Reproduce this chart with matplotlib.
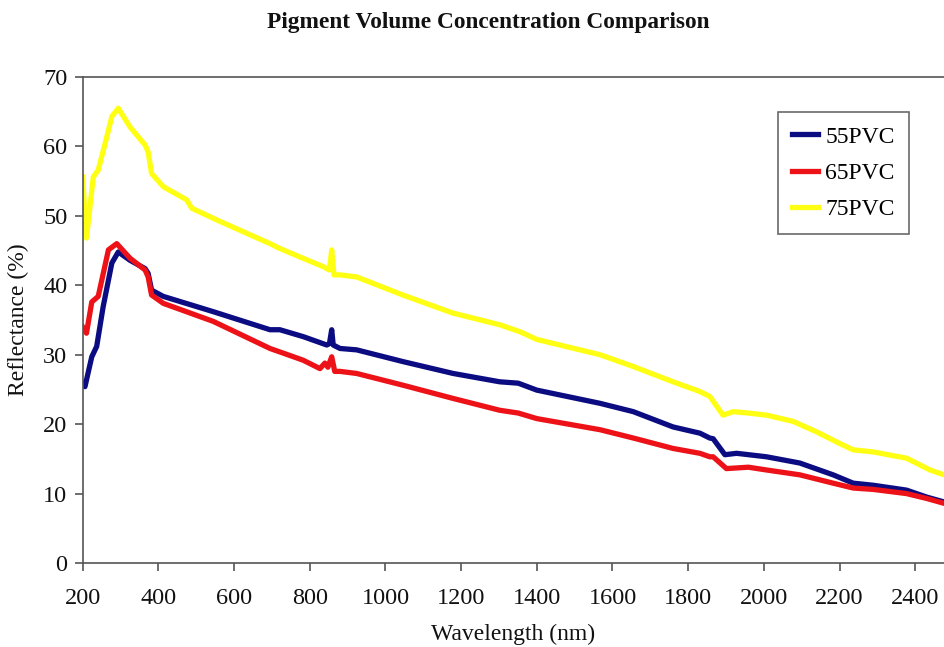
import matplotlib.pyplot as plt

plt.rcParams['font.family'] = ['Liberation Serif', 'DejaVu Serif']

# (wavelength nm, reflectance %)
wl_75 = [200, 210, 228, 241, 262, 277, 294, 325, 365, 373, 382, 413, 475, 488, 563,
         695, 721, 782, 835, 852, 858, 864, 880, 924, 1046, 1178, 1303, 1356, 1400,
         1567, 1655, 1760, 1831, 1857, 1870, 1892, 1919, 1959, 2007, 2077, 2139, 2201,
         2236, 2289, 2377, 2439, 2476]
r_75 = [55.6, 46.8, 55.6, 56.6, 61.0, 64.3, 65.5, 62.8, 60.2, 59.2, 56.1, 54.2, 52.3, 51.1, 49.2,
        46.0, 45.3, 43.9, 42.7, 42.2, 45.1, 41.5, 41.5, 41.2, 38.6, 36.0, 34.3, 33.3, 32.2,
        30.0, 28.3, 26.1, 24.7, 24.0, 23.0, 21.3, 21.8, 21.6, 21.3, 20.4, 18.9, 17.2,
        16.3, 16.0, 15.1, 13.4, 12.7]

wl_55 = [200, 206, 224, 237, 254, 277, 294, 325, 365, 373, 382, 413, 545, 695, 721,
         783, 845, 852, 858, 862, 880, 924, 1047, 1179, 1302, 1351, 1400, 1567, 1655,
         1760, 1831, 1857, 1866, 1897, 1928, 2007, 2095, 2183, 2236, 2289, 2377, 2430, 2476]
r_55 = [25.9, 25.4, 29.7, 31.2, 36.9, 43.2, 44.8, 43.6, 42.4, 41.7, 39.3, 38.4, 36.2, 33.6, 33.6,
        32.6, 31.4, 31.6, 33.6, 31.4, 30.9, 30.7, 29.0, 27.3, 26.1, 25.9, 24.9, 23.0, 21.8,
        19.6, 18.7, 18.0, 17.9, 15.6, 15.8, 15.3, 14.4, 12.7, 11.5, 11.2, 10.5, 9.5, 8.8]

wl_65 = [200, 210, 224, 241, 268, 290, 325, 365, 373, 382, 413, 545, 695, 721, 783,
         827, 840, 848, 858, 866, 880, 924, 1047, 1179, 1302, 1351, 1400, 1567, 1655,
         1760, 1831, 1857, 1866, 1901, 1959, 2007, 2095, 2183, 2236, 2289, 2377, 2430, 2476]
r_65 = [34.0, 33.1, 37.6, 38.4, 45.1, 46.0, 43.9, 42.2, 41.2, 38.6, 37.4, 34.8, 30.9, 30.4, 29.2,
        28.0, 28.8, 28.2, 29.7, 27.6, 27.6, 27.3, 25.6, 23.7, 22.0, 21.6, 20.8, 19.2, 18.0,
        16.5, 15.8, 15.3, 15.3, 13.6, 13.8, 13.4, 12.7, 11.5, 10.8, 10.6, 10.0, 9.3, 8.6]

labels = ['55PVC', '65PVC', '75PVC']
colors = ['#0c0c82', '#ec1218', '#ffff14']

fig = plt.figure(figsize=(9.44, 6.47), dpi=100)
ax = fig.add_axes([0.0876, 0.1298, 0.9124, 0.7512])

for x, y, lab, c in zip([wl_55, wl_65, wl_75], [r_55, r_65, r_75], labels, colors):
    ax.plot(x, y, color=c, lw=3.8, label=lab, solid_joinstyle='round')

ax.set_xlim(200, 2476)
ax.set_ylim(0, 70)
ax.set_xticks(range(200, 2401, 200))
ax.set_yticks(range(0, 71, 10))

for s in ['left', 'bottom', 'top']:
    ax.spines[s].set_color('#555555')
    ax.spines[s].set_linewidth(1.2)
ax.spines['right'].set_visible(False)

ax.tick_params(axis='both', direction='out', length=6, width=1.2, color='#555555',
               labelsize=17.5, labelcolor='#111111')
ax.tick_params(axis='x', pad=12)
ax.tick_params(axis='y', pad=5)

ax.set_xlabel('Wavelength (nm)', fontsize=17, labelpad=11, color='#111111')
ax.set_ylabel('Reflectance (%)', fontsize=17, labelpad=10, color='#111111')
fig.text(0.517, 0.965, 'Pigment Volume Concentration Comparison', ha='center', va='center',
         fontsize=16.8, fontweight='bold', color='#111111')

leg = ax.legend(loc='upper left', bbox_to_anchor=(778 / 944, 1 - 112 / 647),
                bbox_transform=fig.transFigure, fontsize=17, frameon=True, fancybox=False,
                handlelength=1.1, handletextpad=0.3, borderpad=0.6, labelspacing=0.62,
                borderaxespad=0)
leg.get_frame().set_edgecolor('#444444')
leg.get_frame().set_linewidth(1.2)

fig.savefig('out.png', dpi=100)
